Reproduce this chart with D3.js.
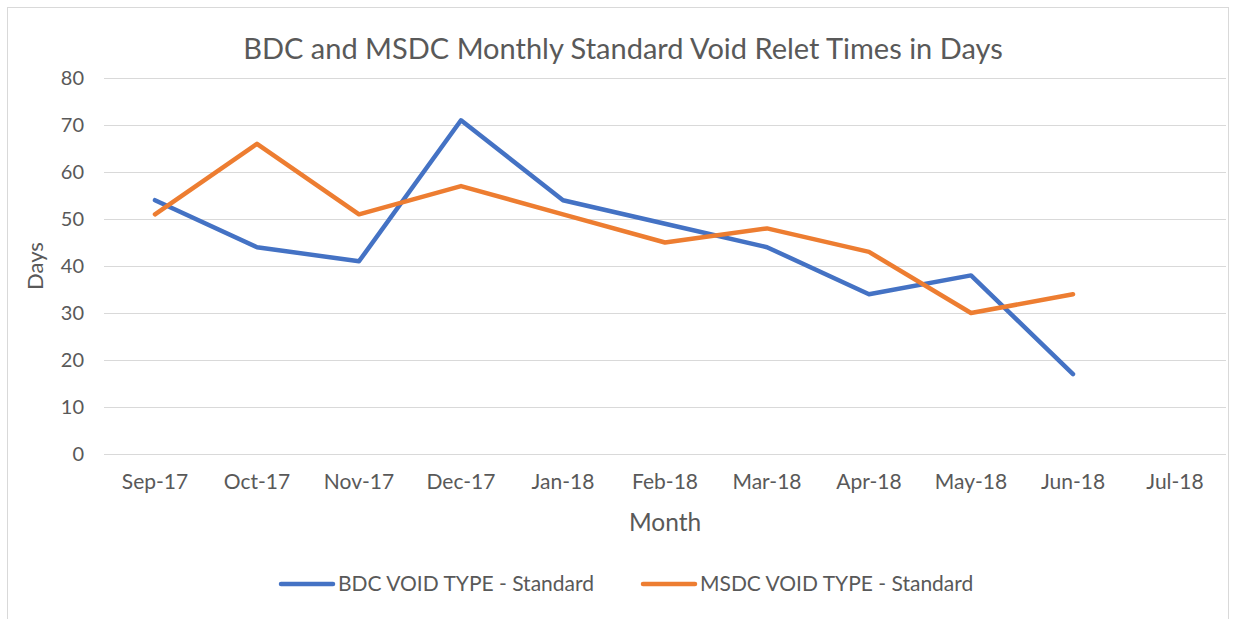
<!DOCTYPE html>
<html><head><meta charset="utf-8">
<script src="https://cdn.jsdelivr.net/npm/d3@7"></script>
<style>body{margin:0;background:#fff}svg{display:block}text{font-family:Lato,"Open Sans",sans-serif;fill:#595959}</style>
</head><body>
<script>
const months = ["Sep-17","Oct-17","Nov-17","Dec-17","Jan-18","Feb-18","Mar-18","Apr-18","May-18","Jun-18","Jul-18"];
const bdc = [54,44,41,71,54,49,44,34,38,17];
const msdc = [51,66,51,57,51,45,48,43,30,34];
const yTicks = [0,10,20,30,40,50,60,70,80];
const seriesNames = ["BDC VOID TYPE - Standard","MSDC VOID TYPE - Standard"];
const colors = ["#4472C4","#ED7D31"];

const W=1236,H=619;
const svg=d3.select("body").append("svg").attr("width",W).attr("height",H);
svg.append("rect").attr("x",7.5).attr("y",7.5).attr("width",1221).attr("height",630).attr("fill","#fff").attr("stroke","#D9D9D9");

const x=d3.scaleBand().domain(months).range([104,1226]);
const y=d3.scaleLinear().domain([0,80]).range([454,78]);

svg.append("g").selectAll("line").data(yTicks).join("line")
 .attr("x1",104).attr("x2",1226).attr("y1",d=>y(d)+0.5).attr("y2",d=>y(d)+0.5)
 .attr("stroke","#D9D9D9").attr("stroke-width",1.2);

const ya=svg.append("g").attr("transform","translate(104,0)").call(d3.axisLeft(y).tickValues(yTicks).tickSize(0).tickPadding(20));
ya.select(".domain").remove();
ya.selectAll("text").style("font-size","20px").attr("fill","#595959").style("font-family","Lato,sans-serif");

const xa=svg.append("g").attr("transform","translate(0,454)").call(d3.axisBottom(x).tickSize(0).tickPadding(20));
xa.select(".domain").remove();
xa.selectAll("text").style("font-size","21px").attr("fill","#595959").style("font-family","Lato,sans-serif");

const line=d3.line().x((d,i)=>x(months[i])+x.bandwidth()/2).y(d=>y(d));
[bdc,msdc].forEach((s,k)=>{
 svg.append("path").datum(s).attr("d",line).attr("fill","none").attr("stroke",colors[k])
  .attr("stroke-width",4.5).attr("stroke-linejoin","round").attr("stroke-linecap","round");
});

svg.append("text").attr("x",623).attr("y",59).attr("text-anchor","middle").style("font-size","29px").text("BDC and MSDC Monthly Standard Void Relet Times in Days");
svg.append("text").attr("x",665).attr("y",531).attr("text-anchor","middle").style("font-size","24.5px").text("Month");
svg.append("text").attr("transform","translate(43,266) rotate(-90)").attr("text-anchor","middle").style("font-size","22px").text("Days");

const legX=[281,643];
seriesNames.forEach((n,k)=>{
 svg.append("line").attr("x1",legX[k]).attr("x2",legX[k]+52).attr("y1",584).attr("y2",584)
  .attr("stroke",colors[k]).attr("stroke-width",4.5).attr("stroke-linecap","round");
 svg.append("text").attr("x",legX[k]+57).attr("y",591).style("font-size","21px").text(n);
});
</script>
</body></html>
